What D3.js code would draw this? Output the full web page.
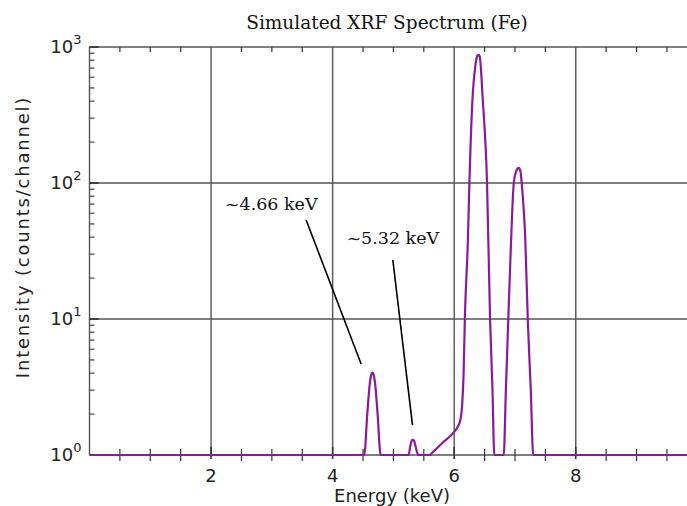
<!DOCTYPE html>
<html>
<head>
<meta charset="utf-8">
<script src="https://cdn.jsdelivr.net/npm/d3@7"></script>
<style>
  body { margin: 0; background: #fff; }
  svg { display: block; }
  .tick-label { font-family: "DejaVu Sans", sans-serif; font-size: 18px; fill: #222; }
  .serif { font-family: "DejaVu Serif", serif; fill: #111; }
</style>
</head>
<body>
<div id="chart"></div>
<script>
// energies (keV) and intensities (counts/channel)
const energy = [0, 4.50, 4.52, 4.57, 4.61, 4.635, 4.655, 4.675, 4.70, 4.74, 4.79,
  5.25, 5.28, 5.30, 5.32, 5.34, 5.36, 5.41,
  5.60, 5.62, 5.80, 6.00, 6.06, 6.10, 6.13, 6.155, 6.175, 6.225, 6.25, 6.30, 6.35, 6.38, 6.40, 6.42, 6.47, 6.54, 6.59, 6.63, 6.66,
  6.815, 6.85, 6.89, 6.93, 6.98, 7.02, 7.06, 7.09, 7.11, 7.17, 7.21, 7.26, 7.30, 9.9];
const intensity = [1, 1, 1.0, 2.0, 3.3, 3.9, 4.03, 3.9, 3.3, 2.0, 1.0,
  1, 1.18, 1.27, 1.29, 1.27, 1.18, 1,
  1, 1.02, 1.22, 1.48, 1.62, 1.8, 2.3, 4, 10, 38, 100, 407, 740, 860, 875, 850, 407, 100, 10, 3, 1,
  1, 3, 10, 32, 100, 122, 129, 122, 100, 38, 10, 3, 1, 1];

const xTicks = [2, 4, 6, 8];
const yTicks = [1, 10, 100, 1000];
const yExponents = ["0", "1", "2", "3"];

const annotations = [
  { text: "~4.66 keV", tx: 2.99, ty: 63, x1: 3.564, y1: 53.5, x2: 4.469, y2: 4.67 },
  { text: "~5.32 keV", tx: 4.99, ty: 35.6, x1: 4.99, y1: 27.2, x2: 5.314, y2: 1.66 }
];

const width = 687, height = 506;
const margin = { left: 90, top: 47, right: 0, bottom: 51 };

const svg = d3.select("#chart").append("svg")
  .attr("width", width).attr("height", height);

const x = d3.scaleLinear().domain([0, 9.83]).range([margin.left - 0.5, width]);
const y = d3.scaleLog().domain([1, 1000]).range([height - margin.bottom, margin.top]);

const gridColor = "#555";

// grid lines
svg.append("g").selectAll("line").data(xTicks).join("line")
  .attr("x1", d => x(d)).attr("x2", d => x(d))
  .attr("y1", y(1000)).attr("y2", y(1))
  .attr("stroke", gridColor).attr("stroke-width", 1.4);
svg.append("g").selectAll("line").data([10, 100]).join("line")
  .attr("x1", x(0)).attr("x2", width)
  .attr("y1", d => y(d)).attr("y2", d => y(d))
  .attr("stroke", gridColor).attr("stroke-width", 1.4);

// spines
svg.append("line").attr("x1", x(0)).attr("x2", x(0)).attr("y1", y(1000)).attr("y2", y(1))
  .attr("stroke", gridColor).attr("stroke-width", 1.4);
svg.append("line").attr("x1", x(0)).attr("x2", width).attr("y1", y(1000)).attr("y2", y(1000))
  .attr("stroke", gridColor).attr("stroke-width", 1.4);
svg.append("line").attr("x1", x(0)).attr("x2", width).attr("y1", y(1)).attr("y2", y(1))
  .attr("stroke", gridColor).attr("stroke-width", 1.4);

// minor x ticks (every 0.5)
const xMinor = d3.range(0.5, 9.83, 0.5).filter(d => d % 2 !== 0);
svg.append("g").selectAll("line").data(xMinor).join("line")
  .attr("x1", d => x(d)).attr("x2", d => x(d))
  .attr("y1", y(1000)).attr("y2", y(1000) + 5)
  .attr("stroke", "#333").attr("stroke-width", 1.2);
svg.append("g").selectAll("line").data(xMinor).join("line")
  .attr("x1", d => x(d)).attr("x2", d => x(d))
  .attr("y1", y(1) - 6).attr("y2", y(1) + 6)
  .attr("stroke", "#333").attr("stroke-width", 1.2);
svg.append("g").selectAll("line").data(xTicks).join("line")
  .attr("x1", d => x(d)).attr("x2", d => x(d))
  .attr("y1", y(1) - 8).attr("y2", y(1) + 4)
  .attr("stroke", "#333").attr("stroke-width", 1.6);

// minor y ticks (log)
const yMinor = [];
[1, 10, 100].forEach(b => d3.range(2, 10).forEach(m => yMinor.push(b * m)));
svg.append("g").selectAll("line").data(yMinor).join("line")
  .attr("x1", x(0)).attr("x2", x(0) + 5)
  .attr("y1", d => y(d)).attr("y2", d => y(d))
  .attr("stroke", "#333").attr("stroke-width", 1.1);
svg.append("g").selectAll("line").data(yTicks).join("line")
  .attr("x1", x(0)).attr("x2", x(0) + 9)
  .attr("y1", d => y(d)).attr("y2", d => y(d))
  .attr("stroke", "#333").attr("stroke-width", 1.6);

// tick labels
svg.append("g").selectAll("text").data(xTicks).join("text")
  .attr("class", "tick-label")
  .attr("x", d => x(d)).attr("y", y(1) + 27)
  .attr("text-anchor", "middle")
  .text(d => d);

const yLab = svg.append("g").selectAll("text").data(yTicks).join("text")
  .attr("class", "tick-label")
  .attr("x", x(0) - 8).attr("y", d => y(d) + 6)
  .attr("text-anchor", "end");
yLab.append("tspan").text("10");
yLab.append("tspan").attr("dy", -9).attr("font-size", 13).text((d, i) => yExponents[i]);

// spectrum
const pts = energy.map((e, i) => ({ e: e, v: intensity[i] }));
const line = d3.line().x(d => x(d.e)).y(d => y(d.v)).curve(d3.curveMonotoneX);
svg.append("path").datum(pts)
  .attr("d", line)
  .attr("fill", "none")
  .attr("stroke", "#8b1a9b")
  .attr("stroke-width", 2.2);

// annotations
annotations.forEach(a => {
  svg.append("line")
    .attr("x1", x(a.x1)).attr("y1", y(a.y1))
    .attr("x2", x(a.x2)).attr("y2", y(a.y2))
    .attr("stroke", "#000").attr("stroke-width", 1.6);
  svg.append("text").attr("class", "serif")
    .attr("x", x(a.tx)).attr("y", y(a.ty))
    .attr("text-anchor", "middle")
    .attr("font-size", 17.5)
    .text(a.text);
});

// title and axis labels
svg.append("text").attr("class", "serif")
  .attr("x", 387).attr("y", 29)
  .attr("text-anchor", "middle").attr("font-size", 18.5)
  .text("Simulated XRF Spectrum (Fe)");

svg.append("text").attr("class", "tick-label")
  .attr("x", 392).attr("y", 502)
  .attr("text-anchor", "middle")
  .attr("font-size", 19)
  .text("Energy (keV)");

svg.append("text").attr("class", "tick-label")
  .attr("transform", `translate(29,${(y(1) + y(1000)) / 2 - 14}) rotate(-90)`)
  .attr("text-anchor", "middle")
  .attr("font-size", 20)
  .attr("letter-spacing", 1.8)
  .text("Intensity (counts/channel)");
</script>
</body>
</html>
